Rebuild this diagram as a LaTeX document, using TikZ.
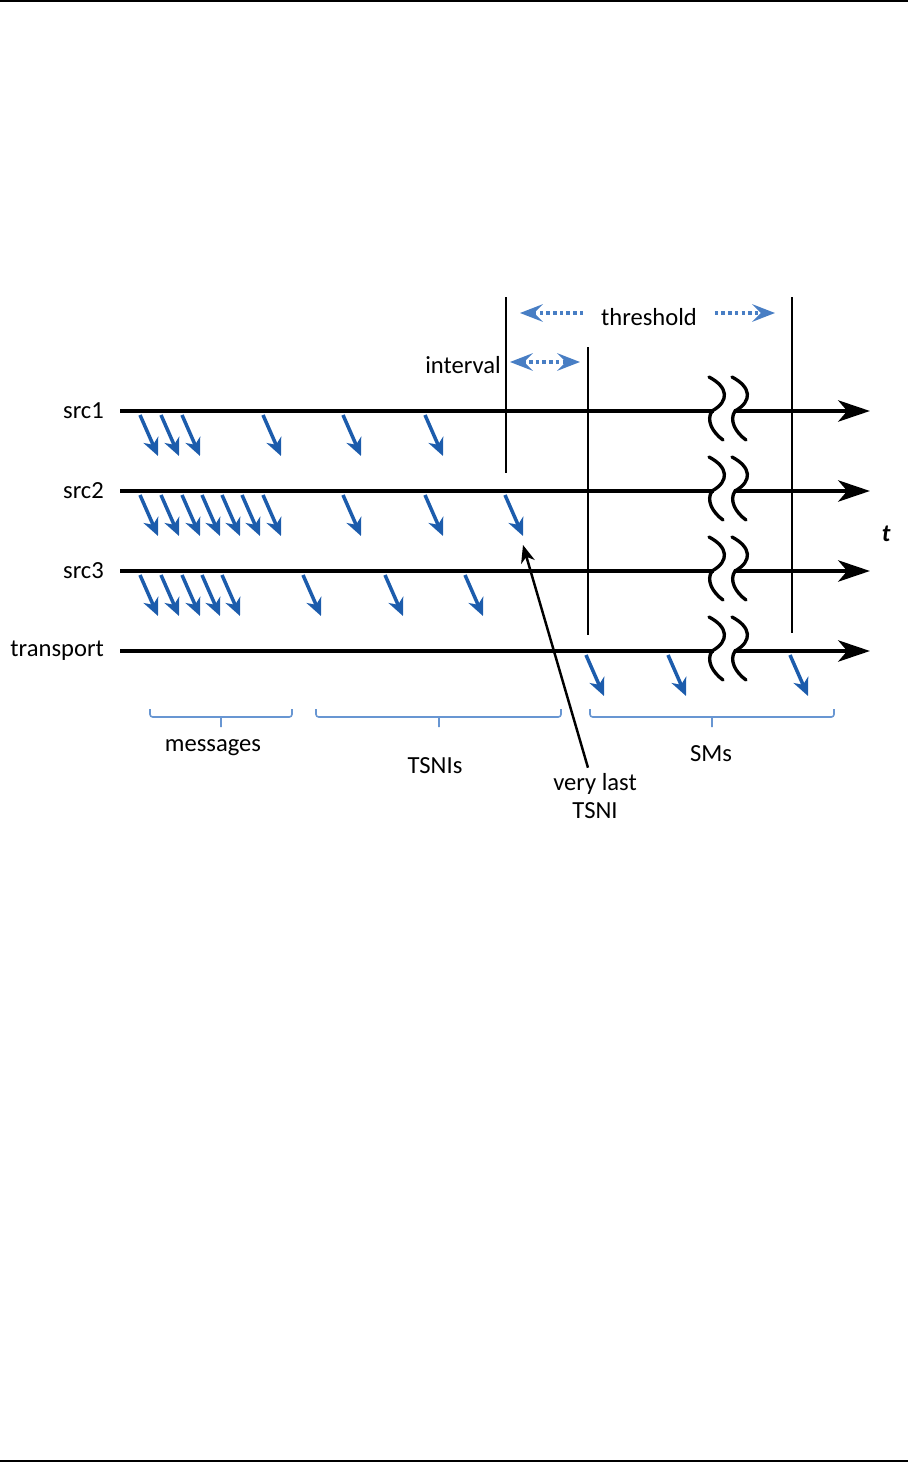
\documentclass[tikz,border=0pt]{standalone}
\usepackage{fontspec}
\setmainfont{Carlito}
\usepackage{tikz}
\usetikzlibrary{positioning, arrows.meta}
\definecolor{MsgBlue}{RGB}{28,92,172}
\definecolor{DotBlue}{RGB}{72,126,196}
\definecolor{BrBlue}{RGB}{104,150,210}

\begin{document}
\begin{tikzpicture}[x=0.02cm, y=-0.02cm,
          every node/.style={font=\fontsize{14}{16}\selectfont, inner sep=1pt},
          tl/.style={-{Stealth[length=18pt, width=12pt, inset=5pt]}, line width=2.8pt},
          msg/.style={-{Stealth[length=10pt, width=9pt, inset=3pt]},
                      draw=MsgBlue, line width=2pt},
          dar/.style={>={Stealth[length=13pt, width=10pt, inset=5pt]}, ->,
                      draw=DotBlue, line width=2pt, dash pattern=on 2pt off 1.8pt},
          ptr/.style={-{Stealth[length=10pt, width=8pt, inset=3pt]}, line width=1.4pt},
          bnd/.style={line width=0.9pt},
          brc/.style={draw=BrBlue, line width=0.9pt, rounded corners=1.5pt},
          brk/.style={line width=1.9pt, line cap=round}
        ]
        \useasboundingbox (0,0) rectangle (908,1463);
        % page rules
        \draw[bnd] (0,1) -- (908,1);
        \draw[bnd] (0,1461) -- (908,1461);

        % time lines
        \coordinate (s1a) at (120,411);  \coordinate (s1b) at (870,411);
        \coordinate (s2a) at (120,491);  \coordinate (s2b) at (870,491);
        \coordinate (s3a) at (120,571);  \coordinate (s3b) at (870,571);
        \coordinate (tra) at (120,651);  \coordinate (trb) at (870,651);
        \node[left=8pt of s1a] (src1) {src1};
        \node[left=8pt of s2a] (src2) {src2};
        \node[left=8pt of s3a] (src3) {src3};
        \node[left=8pt of tra] (trans) {transport};
        \draw[tl] (s1a) -- (s1b);
        \draw[tl] (s2a) -- (s2b);
        \draw[tl] (s3a) -- (s3b);
        \draw[tl] (tra) -- (trb);
        \node[font=\fontsize{14}{16}\selectfont\itshape\bfseries] (tlab) at (886,534) {t};

        % breaks
        \foreach \L in {411,491,571,651} {
          \fill[white] (714,\L-3.5) rectangle (734,\L+3.5);
          \foreach \X in {712,735}
            \draw[brk] (\X-3,\L-34) .. controls (\X+16,\L-24) and (\X+18,\L-10) .. (\X,\L)
                       .. controls (\X-6,\L+9) and (\X,\L+21) .. (\X+11,\L+29);
        }

        % interval / threshold marks
        \draw[bnd] (506,297) -- (506,473);
        \draw[bnd] (588,347) -- (588,635);
        \draw[bnd] (792,297) -- (792,633);
        \node[inner xsep=10pt] (thr) at (649,317) {threshold};
        \coordinate (thrL) at (520,313);
        \coordinate (thrR) at (775,313);
        \draw[dar] (thr.west |- thrL) -- (thrL);
        \draw[dar] (thr.east |- thrR) -- (thrR);
        \coordinate (ivA) at (510,362);
        \coordinate (ivB) at (580,362);
        \node[left=4pt of ivA, yshift=-2pt] (iv) {interval};
        \draw[dar, <->] (ivA) -- (ivB);

        % messages
        \foreach \x in {140,161,182,263,343,425}
          \draw[msg] (\x,415) -- ++(18,41);
        \foreach \x in {140,161,182,202,222,242,263,343,425}
          \draw[msg] (\x,495) -- ++(18,41);
        \draw[msg] (505,495) -- ++(18,41);
        \foreach \x in {140,161,182,202,222,303,385,465}
          \draw[msg] (\x,575) -- ++(18,41);
        \foreach \x in {586,668,790}
          \draw[msg] (\x,655) -- ++(18,41);

        % very last TSNI
        \coordinate (lastT) at (523,545);
        \node[align=center] (vl) at (595,796) {very last\\TSNI};
        \draw[ptr] ([xshift=-4pt, yshift=2pt]vl.north) -- (lastT);

        % braces
        \draw[brc] (150,709) -- (150,717) -- (292,717) -- (292,709) (221,717) -- (221,727);
        \draw[brc] (316,709) -- (316,717) -- (561,717) -- (561,709) (439,717) -- (439,727);
        \draw[brc] (590,709) -- (590,717) -- (834,717) -- (834,709) (712,717) -- (712,727);
        \node (msgs) at (213,748) {messages};
        \node (tsni) at (435,766) {TSNIs};
        \node (sms)  at (711,754) {SMs};
      \end{tikzpicture}
\end{document}
